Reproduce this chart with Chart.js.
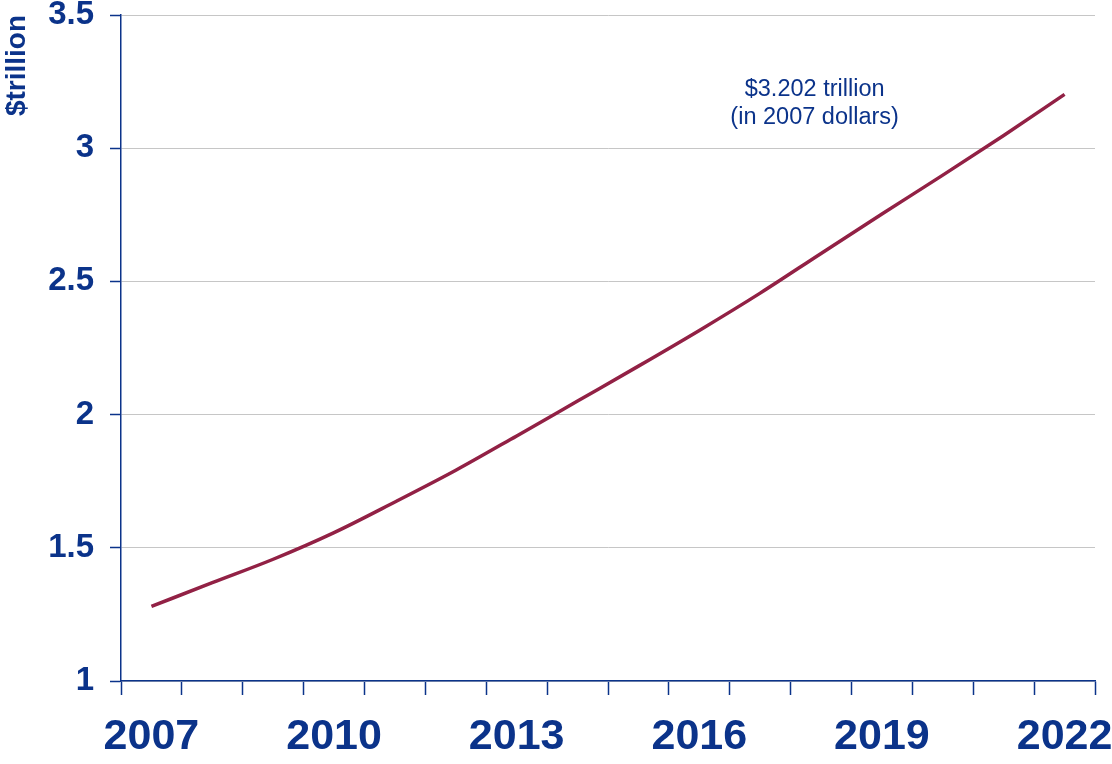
<!DOCTYPE html>
<html>
<head>
<meta charset="utf-8">
<script src="https://cdn.jsdelivr.net/npm/chart.js@4/dist/chart.umd.min.js"></script>
<style>
  html, body { margin: 0; padding: 0; background: #fff; }
  #wrap { width: 1112px; height: 764px; }
</style>
</head>
<body>
<div id="wrap"><canvas id="spendChart"></canvas></div>
<script>
const years = ['2007', '2008', '2009', '2010', '2011', '2012', '2013', '2014',
               '2015', '2016', '2017', '2018', '2019', '2020', '2021', '2022'];
// $ trillion, 2007 dollars
const spending = [1.280, 1.369, 1.457, 1.557, 1.672, 1.791, 1.920, 2.051,
                  2.182, 2.316, 2.456, 2.605, 2.753, 2.899, 3.048, 3.202];
const yTicks = [1, 1.5, 2, 2.5, 3, 3.5];
const noteLines = ['$' + spending[spending.length - 1].toFixed(3) + ' trillion', '(in 2007 dollars)'];

const navy = '#0b338a';
const maroon = '#922145';

// text note above the end of the line
const notePlugin = {
    id: 'note',
    afterDatasetsDraw(chart) {
        const { ctx, scales } = chart;
        const x = (scales.x.getPixelForValue(10) + scales.x.getPixelForValue(11)) / 2 + 24;
        const y = scales.y.getPixelForValue(3.222);
        ctx.save();
        ctx.fillStyle = navy;
        ctx.font = '23.5px "Liberation Sans", Arial, sans-serif';
        ctx.textAlign = 'center';
        ctx.textBaseline = 'middle';
        noteLines.forEach((t, i) => ctx.fillText(t, x, y + i * 28));
        ctx.restore();
    }
};

const ctx = document.getElementById('spendChart').getContext('2d');

const spendChart = new Chart(ctx, {
    type: 'line',
    data: {
        labels: years,
        datasets: [{
            data: spending,
            borderColor: maroon,
            borderWidth: 3.5,
            pointRadius: 0,
            fill: false,
            cubicInterpolationMode: 'monotone'
        }]
    },
    options: {
        responsive: true,
        maintainAspectRatio: false,
        animation: false,
        layout: { padding: { top: 15, right: 17, left: 0, bottom: 0 } },
        plugins: {
            legend: { display: false },
            tooltip: { enabled: false }
        },
        scales: {
            x: {
                type: 'category',
                offset: true,
                grid: {
                    offset: true,
                    drawOnChartArea: false,
                    drawTicks: true,
                    tickLength: 14,
                    tickColor: navy,
                    tickWidth: 1.5
                },
                border: { color: navy, width: 1.5 },
                ticks: {
                    autoSkip: false,
                    maxRotation: 0,
                    padding: 16,
                    color: navy,
                    font: { family: '"Liberation Sans", Arial, sans-serif', size: 43, weight: 'bold' },
                    callback: (v, i) => (i % 3 === 0 ? years[i] : '')
                },
                afterFit: s => {
                    s.height = 83;
                    s.paddingLeft = 0;
                    s.paddingRight = 0;
                }
            },
            y: {
                min: 1,
                max: 3.5,
                afterBuildTicks: s => { s.ticks = yTicks.map(v => ({ value: v })); },
                grid: {
                    color: '#c6c6c6',
                    lineWidth: 1,
                    tickLength: 11,
                    tickColor: navy,
                    tickWidth: 1.5
                },
                border: { color: navy, width: 1.5 },
                ticks: {
                    padding: 16,
                    color: navy,
                    font: { family: '"Liberation Sans", Arial, sans-serif', size: 33, weight: 'bold' },
                    callback: v => String(v)
                },
                title: {
                    display: true,
                    text: '$trillion',
                    align: 'end',
                    color: navy,
                    padding: 0,
                    font: { family: '"Liberation Sans", Arial, sans-serif', size: 28, weight: 'bold' }
                },
                afterFit: s => {
                    s.width = 121;
                    s.paddingTop = 0;
                    s.paddingBottom = 0;
                }
            }
        }
    },
    plugins: [notePlugin]
});
</script>
</body>
</html>
